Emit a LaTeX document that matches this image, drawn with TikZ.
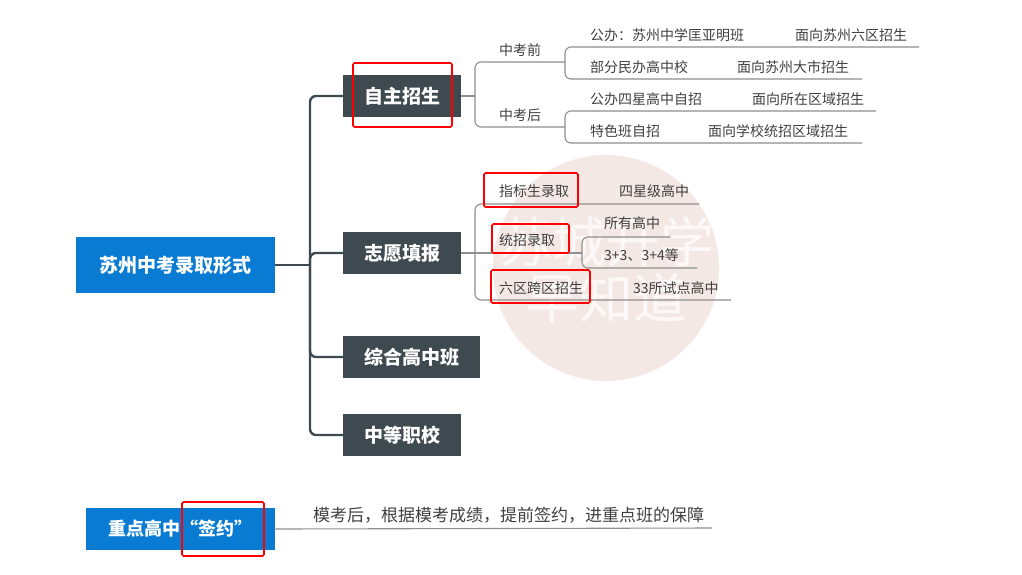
\documentclass[tikz,border=0pt]{standalone}
\usepackage{fontspec}
\setmainfont{Noto Sans CJK SC}
\definecolor{topicgray}{HTML}{3E4950}
\definecolor{rootblue}{HTML}{0A7BD2}
\definecolor{linegray}{HTML}{8E8E8E}
\definecolor{txtgray}{HTML}{404040}
\definecolor{wmpink}{HTML}{F4E8E5}

\begin{document}
\begin{tikzpicture}[x=1pt, y=-1pt,
    topic/.style={fill=topicgray, text=white, anchor=west, inner xsep=21pt,
        minimum height=42pt, font=\fontsize{19}{22}\selectfont\bfseries},
    rootbox/.style={fill=rootblue, text=white, anchor=west, inner xsep=23.5pt,
        minimum height=56pt, font=\fontsize{19}{22}\selectfont\bfseries},
    lbl/.style={anchor=west, inner sep=0pt, text=txtgray, font=\fontsize{14}{16}\selectfont},
    trunk/.style={draw=topicgray, line width=2.4pt, rounded corners=6pt},
    sub/.style={draw=linegray, line width=1.1pt, rounded corners=6pt},
    redbox/.style={draw=red, line width=1.6pt, rounded corners=1.5pt}]
    \useasboundingbox (0,0) rectangle (1022,574);
    % watermark
    \fill[wmpink] (606,268) circle (113);
    \node[text=white, opacity=0.7, font=\fontsize{54}{56}\selectfont] at (606,242) {苏城升学};
    \node[text=white, opacity=0.7, font=\fontsize{54}{56}\selectfont] at (606,298) {早知道};

    % root and main branches
    \node[rootbox] (root) at (76,265) {苏州中考录取形式};
    \node[topic] (zz) at (343,96) {自主招生};
    \node[topic] (zy) at (343,253) {志愿填报};
    \node[topic] (zh) at (343,357) {综合高中班};
    \node[topic] (zd) at (343,435) {中等职校};
    \coordinate (tr) at (310,265);
    \draw[trunk] (root.east) -- (tr);
    \foreach \t in {zz,zy,zh,zd} \draw[trunk] (tr) |- (\t.west);

    % 自主招生
    \node[lbl] (qian) at (499,50) {中考前};
    \node[lbl] (hou) at (499,115) {中考后};
    \node[lbl] (a1) at (590,35) {公办：苏州中学匡亚明班};
    \node[lbl] (a1r) at (795,35) {面向苏州六区招生};
    \node[lbl] (a2) at (590,67) {部分民办高中校};
    \node[lbl] (a2r) at (737,67) {面向苏州大市招生};
    \node[lbl] (b1) at (590,99) {公办四星高中自招};
    \node[lbl] (b1r) at (752,99) {面向所在区域招生};
    \node[lbl] (b2) at (590,131) {特色班自招};
    \node[lbl] (b2r) at (708,131) {面向学校统招区域招生};
    \coordinate (zzb) at (475,96);
    \coordinate (qb) at (565,62);
    \coordinate (hb) at (565,127);
    \draw[sub] (zz.east) -- (zzb);
    \draw[sub] (zzb) |- (qb);
    \draw[sub] (zzb) |- (hb);
    \draw[sub] (qb) |- (919,47);
    \draw[sub] (qb) |- (862,79);
    \draw[sub] (hb) |- (876,111);
    \draw[sub] (hb) |- (862,143);

    % 志愿填报
    \node[lbl] (zb) at (499,191) {指标生录取};
    \node[lbl] (zbr) at (619,191) {四星级高中};
    \node[lbl] (tz) at (499,240) {统招录取};
    \node[lbl] (tz1) at (604,223) {所有高中};
    \node[lbl] (tz2) at (604,255) {3+3、3+4等};
    \node[lbl] (lq) at (499,288) {六区跨区招生};
    \node[lbl] (lqr) at (633,288) {33所试点高中};
    \coordinate (zyb) at (475,253);
    \coordinate (tb) at (582,253);
    \draw[sub] (zy.east) -- (tb);
    \draw[sub] (zyb) |- (699,204);
    \draw[sub] (zyb) |- (731,300);
    \draw[sub] (tb) |- (670,237);
    \draw[sub] (tb) |- (697,268);

    % 重点高中
    \node[rootbox, inner xsep=22.5pt, minimum height=42pt, font=\fontsize{18}{20}\selectfont\bfseries]
        (key) at (86,529) {重点高中“签约”};
    \node[lbl, text=txtgray, font=\fontsize{17}{19}\selectfont] (keyr) at (313,515)
        {模考后，根据模考成绩，提前签约，进重点班的保障};
    \draw[sub] (key.east) -- (712,528);

    % red marks
    \draw[redbox] (353,63) rectangle (452,127);
    \draw[redbox] (484,173) rectangle (578,207);
    \draw[redbox] (492,224) rectangle (569,253);
    \draw[redbox] (491,270) rectangle (590,303);
    \draw[redbox] (182,502) rectangle (264,556);
\end{tikzpicture}
\end{document}
